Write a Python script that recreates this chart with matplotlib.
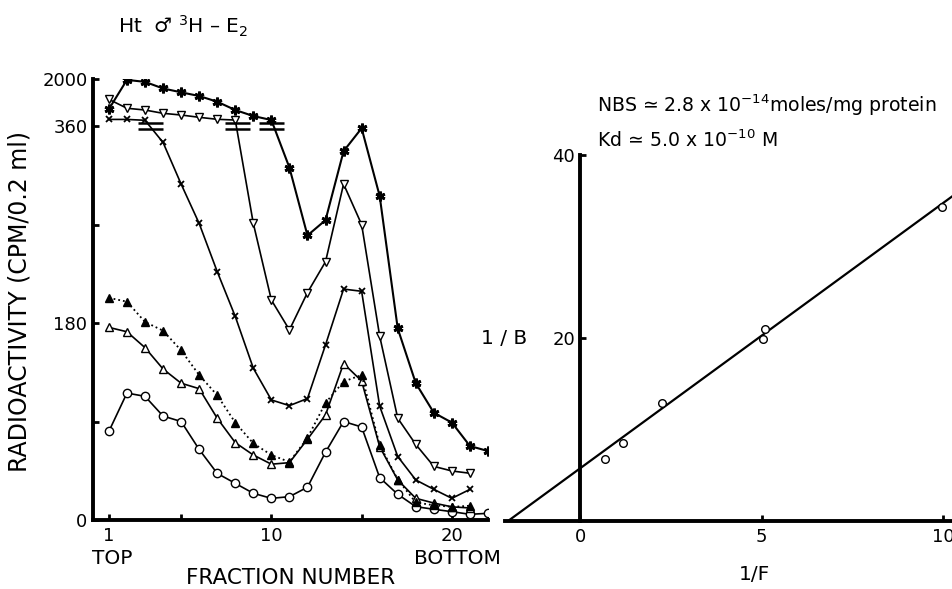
import numpy as np
import matplotlib
matplotlib.use("Agg")
import matplotlib.pyplot as plt
from matplotlib.path import Path

plt.rcParams['font.family'] = ['DejaVu Sans']

# --- sucrose gradient profiles (CPM/0.2 ml) by fraction number ---
fractions = list(range(1, 23))
circles = [81, 116, 113, 95, 90, 64.5, 42.6, 33.5, 24.4, 19.8, 21.3, 30, 62,
           90, 85, 38.7, 23.5, 12.2, 9.8, 7.6, 5.2, 6.1]
open_tri = [176, 172, 157.5, 138, 125, 120, 93, 70.7, 59.4, 51, 52.4, 73.8,
            96, 143, 127, 67, 36.6, 19.8, 15.5, 12, 11]
filled_tri = [203, 199.5, 181, 173, 155, 132.5, 114, 89, 70, 59.4, 53, 75,
              107, 126.5, 132.5, 68.5, 37, 16, 13.5, 12, 13]
crosses = [590, 590, 560, 345, 307, 271, 227, 186, 138.7, 109.7, 104.5, 111,
           160, 211, 209, 104, 58, 36.6, 28, 19.8, 28]
inv_tri = [1290, 980, 918, 803, 744, 664, 594, 569, 271, 201, 173.7, 207.8,
           236, 307, 270, 168, 93, 69, 49, 44.8, 42.7]
stars = [950, 1969, 1900, 1670, 1536, 1407, 1208, 918, 709, 569, 322, 260,
         274, 337, 358, 296, 175, 125, 98, 89, 67.6, 63]
break_fracs = [3.3, 8.1, 10.0]

# --- Scatchard-type plot ---
inv_f = [0.69, 1.18, 2.25, 5.08, 5.05, 9.96]
inv_b = [6.74, 8.56, 12.86, 20.95, 19.9, 34.35]
fit_slope = 2.9
fit_intercept = 5.76
fit_x = [-1.99, 10.3]

# broken y axis: linear up to 360, compressed above
K = 0.0262


def fwd(v):
    v = np.asarray(v, dtype=float)
    return np.where(v <= 360, v, 360 + (v - 360) * K)


def inv(u):
    u = np.asarray(u, dtype=float)
    return np.where(u <= 360, u, 360 + (u - 360) / K)


# double-bar "=" break symbol
break_marker = Path([(-1, 0.22), (1, 0.22), (-1, -0.22), (1, -0.22)],
                    [Path.MOVETO, Path.LINETO, Path.MOVETO, Path.LINETO])

W, H = 953, 589
FS = 14.5
TS = 13
fig = plt.figure(figsize=(W / 100, H / 100), dpi=100)

ax1 = fig.add_axes([93 / W, 69 / H, 395 / W, 441 / H])
ax1.set_yscale('function', functions=(fwd, inv))
ax1.set_ylim(0, 2000)
ax1.set_xlim(0.12, 22.0)

lw = 1.2
n = len
ax1.plot(fractions[:n(circles)], circles, '-o', color='black', lw=lw, ms=6,
         mfc='white', mew=1.0)
ax1.plot(fractions[:n(open_tri)], open_tri, '-^', color='black', lw=lw, ms=6,
         mfc='white', mew=1.0)
ax1.plot(fractions[:n(filled_tri)], filled_tri, ':^', color='black', lw=1.3,
         ms=6)
ax1.plot(fractions[:n(crosses)], crosses, '-x', color='black', lw=lw, ms=5,
         mew=1.3)
ax1.plot(fractions[:n(inv_tri)], inv_tri, '-v', color='black', lw=lw, ms=6,
         mfc='white', mew=1.0)
ax1.plot(fractions[:n(stars)], stars, '-', color='black', lw=1.5,
         marker=(6, 2, 0), ms=7, mew=2.0)
ax1.plot(break_fracs, [360] * len(break_fracs), ls='none',
         marker=break_marker, ms=18, mew=1.8, color='black')

for s in ['top', 'right']:
    ax1.spines[s].set_visible(False)
for s in ['left', 'bottom']:
    ax1.spines[s].set_linewidth(2.8)
ax1.set_yticks([0, 180, 360, 2000])
ax1.set_yticks([90, 270], minor=True)
ax1.set_xticks([1, 10, 20])
ax1.set_xticks([5, 15], minor=True)
ax1.set_xticklabels(['1', '10', '20'])
ax1.tick_params(axis='both', which='both', direction='in', length=4, width=2,
                labelsize=TS)
ax1.tick_params(axis='y', pad=4)
ax1.tick_params(axis='x', pad=5)

fig.text(112 / W, 1 - 559 / H, 'TOP', ha='center', va='center', fontsize=FS)
fig.text(457 / W, 1 - 559 / H, 'BOTTOM', ha='center', va='center',
         fontsize=FS)
fig.text(291 / W, 1 - 578 / H, 'FRACTION NUMBER', ha='center', va='center',
         fontsize=15.5)
fig.text(20 / W, 1 - 302 / H, 'RADIOACTIVITY (CPM/0.2 ml)', ha='center',
         va='center', rotation=90, fontsize=17)
fig.text(118 / W, 1 - 26 / H, 'Ht  \u2642 $^{3}$H \u2013 E$_{2}$',
         ha='left', va='center', fontsize=FS)

# right panel
ax2 = fig.add_axes([505 / W, 68 / H, 448 / W, 366 / H])
ax2.set_xlim(-2.07, 10.27)
ax2.set_ylim(0, 40)
fx = np.array(fit_x)
ax2.plot(fx, fit_intercept + fit_slope * fx, color='black', lw=1.6)
ax2.plot(inv_f, inv_b, 'o', color='black', ms=5.5, mfc='white', mew=1.0)
for s in ['top', 'right']:
    ax2.spines[s].set_visible(False)
ax2.spines['left'].set_position(('data', 0))
ax2.spines['left'].set_linewidth(2.8)
ax2.spines['bottom'].set_linewidth(2.8)
ax2.set_xticks([0, 5, 10])
ax2.set_yticks([20, 40])
ax2.tick_params(axis='both', direction='in', length=4, width=2,
                labelsize=TS)
ax2.tick_params(axis='x', pad=5)

fig.text(504 / W, 1 - 338 / H, '1 / B', ha='center', va='center',
         fontsize=FS)
fig.text(754 / W, 1 - 574 / H, '1/F', ha='center', va='center', fontsize=FS)
fig.text(597 / W, 1 - 105 / H,
         'NBS \u2243 2.8 x 10$^{-14}$moles/mg protein', ha='left',
         va='center', fontsize=13.6)
fig.text(597 / W, 1 - 140 / H, 'Kd \u2243 5.0 x 10$^{-10}$ M', ha='left',
         va='center', fontsize=13.6)

fig.savefig('out.png', dpi=100)
